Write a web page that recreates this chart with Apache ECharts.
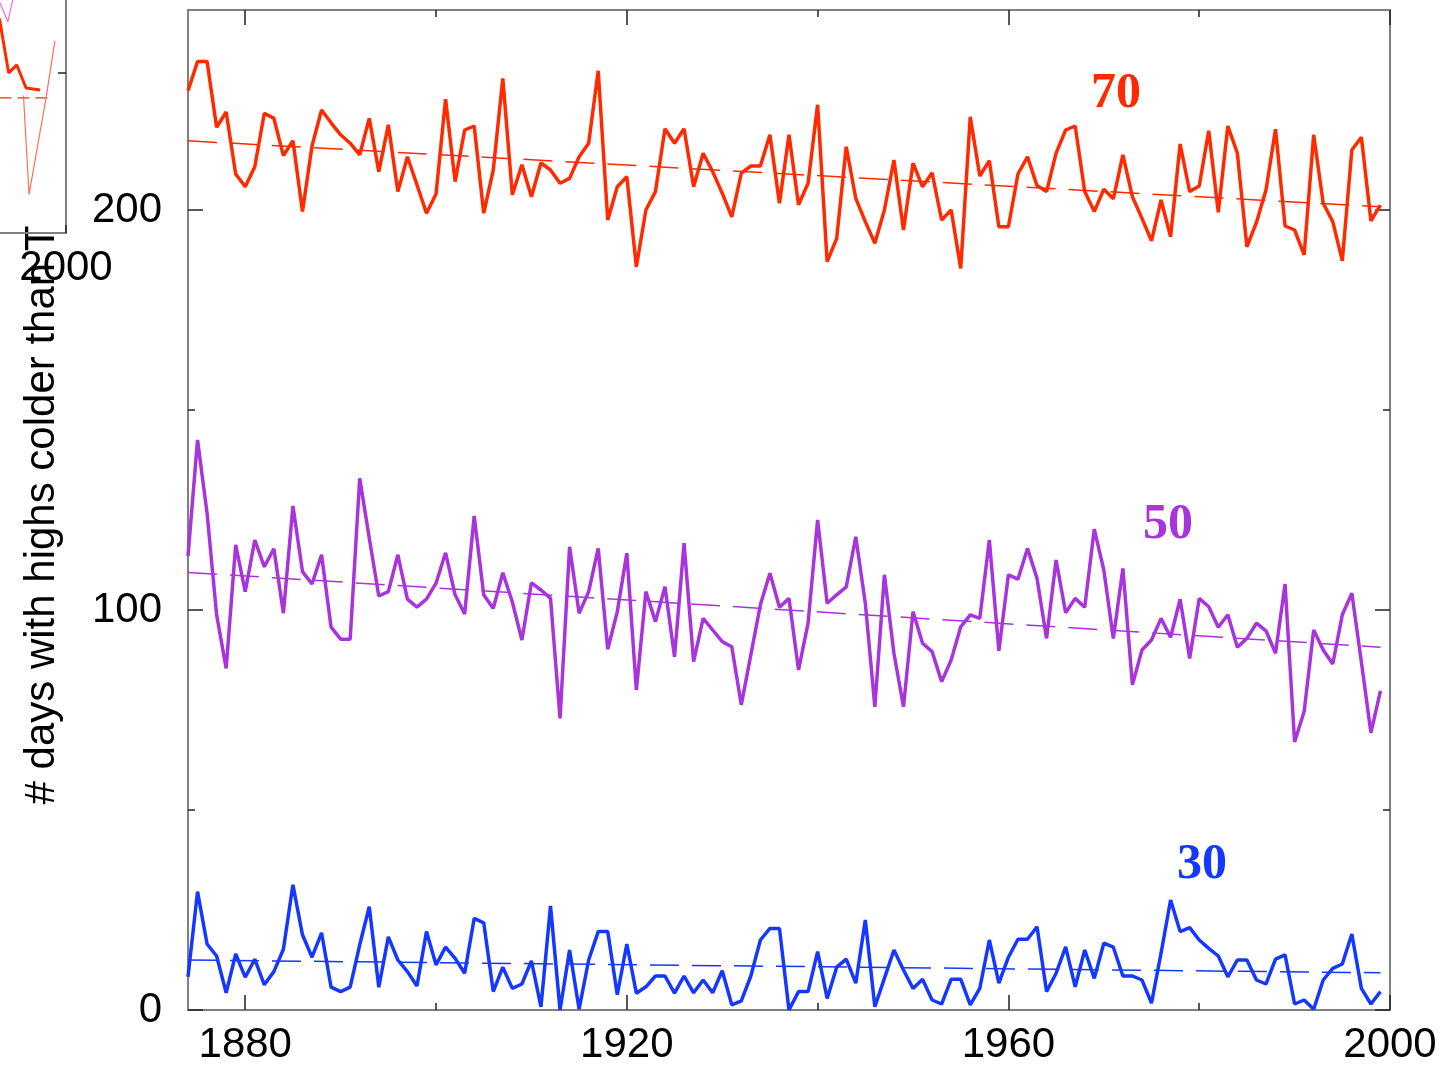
<!DOCTYPE html>
<html>
<head>
<meta charset="utf-8">
<script src="https://cdn.jsdelivr.net/npm/echarts@6/dist/echarts.min.js"></script>
<style>
  html, body { margin: 0; padding: 0; background: #fff; }
  #main { width: 1444px; height: 1072px; }
</style>
</head>
<body>
<div id="main"></div>
<script>
// years 1874 - 1999
var years = [
  1874, 1875, 1876, 1877, 1878, 1879, 1880, 1881, 1882, 1883,
  1884, 1885, 1886, 1887, 1888, 1889, 1890, 1891, 1892, 1893,
  1894, 1895, 1896, 1897, 1898, 1899, 1900, 1901, 1902, 1903,
  1904, 1905, 1906, 1907, 1908, 1909, 1910, 1911, 1912, 1913,
  1914, 1915, 1916, 1917, 1918, 1919, 1920, 1921, 1922, 1923,
  1924, 1925, 1926, 1927, 1928, 1929, 1930, 1931, 1932, 1933,
  1934, 1935, 1936, 1937, 1938, 1939, 1940, 1941, 1942, 1943,
  1944, 1945, 1946, 1947, 1948, 1949, 1950, 1951, 1952, 1953,
  1954, 1955, 1956, 1957, 1958, 1959, 1960, 1961, 1962, 1963,
  1964, 1965, 1966, 1967, 1968, 1969, 1970, 1971, 1972, 1973,
  1974, 1975, 1976, 1977, 1978, 1979, 1980, 1981, 1982, 1983,
  1984, 1985, 1986, 1987, 1988, 1989, 1990, 1991, 1992, 1993,
  1994, 1995, 1996, 1997, 1998, 1999
];
// T = 70
var days70 = [
  229.8, 237.1, 237.1, 220.7, 224.5, 209, 205.8, 210.8, 224.2, 222.9,
  213.6, 217.3, 199.6, 216, 225, 221.8, 218.8, 216.7, 213.8, 222.9,
  209.6, 221.3, 204.6, 213.3, 206.3, 199.2, 204, 227.7, 207.1, 220,
  221, 199.2, 210, 232.9, 203.8, 211.3, 203.3, 211.8, 210, 206.7,
  207.9, 213.3, 216.7, 234.8, 197.5, 205.8, 208.3, 185.8, 200, 204.6,
  220.3, 216.7, 220.3, 205.8, 214.2, 209.6, 204.2, 198.3, 209.2, 211,
  211, 218.8, 201.7, 218.8, 201.3, 206.7, 226.3, 187.1, 192.9, 215.8,
  202.9, 197.1, 191.7, 200, 212.5, 195, 211.7, 205.8, 209.3, 197.5,
  200, 185.4, 223.3, 208.5, 212.3, 195.8, 195.8, 209, 213.3, 206.1,
  204.6, 214.2, 220, 221, 204.6, 199.6, 205.2, 202.8, 213.8, 203.3,
  197.9, 192.3, 202.5, 193.3, 216.5, 204.6, 206, 219.8, 199.4, 221,
  214.2, 190.8, 196.9, 205, 220.2, 196, 195, 188.8, 218.8, 201.7,
  197.1, 187.3, 215, 218.2, 197.3, 201.2
];
// T = 50
var days50 = [
  113.5, 142.5, 124.2, 98.8, 85.4, 116.3, 104.6, 117.5, 110.8, 115.3,
  99.2, 126, 109.6, 106.5, 113.8, 95.7, 92.7, 92.7, 132.9, 118,
  103.5, 104.6, 113.8, 102.7, 100.7, 102.7, 106.7, 114.3, 103.8, 99,
  123.5, 103.8, 100.4, 109.3, 102, 92.5, 106.8, 105, 102.9, 72.9,
  115.8, 99.2, 104.6, 115.4, 90.2, 99.6, 114.2, 80, 104.6, 97.1,
  105.8, 88.3, 116.7, 87.1, 97.9, 95, 92.1, 90.8, 76.3, 88.8,
  101.3, 109.2, 100.7, 102.9, 85, 96.7, 122.5, 101.7, 103.8, 105.8,
  118.3, 101.7, 75.8, 108.8, 89.2, 75.8, 99.6, 91.7, 89.6, 82.1,
  87.5, 95.8, 98.8, 97.9, 117.5, 89.8, 108.8, 107.7, 115.4, 107.9,
  92.9, 112.5, 99.3, 102.9, 100.7, 120.2, 110, 92.9, 110.4, 81.3,
  90, 92.5, 97.9, 93.2, 102.7, 87.9, 102.9, 100.8, 95.7, 98.8,
  90.7, 92.9, 96.7, 94.8, 89.2, 106.5, 67, 74.6, 95, 90,
  86.5, 98.8, 104.2, 87, 69.3, 79.8
];
// T = 30
var days30 = [
  8.3, 29.6, 16.5, 13.5, 4.3, 14, 8.2, 12.7, 6.3, 9.6,
  15.2, 31.3, 18.8, 13.2, 19.3, 5.7, 4.6, 5.7, 16.3, 25.8,
  5.7, 18.3, 12.5, 9.6, 6, 19.6, 11.3, 15.7, 12.9, 9.2,
  22.9, 21.8, 4.6, 10.7, 5.4, 6.5, 12.3, 0.8, 26, 0,
  15, 0.2, 12.5, 19.6, 19.6, 3.8, 16.5, 4.2, 5.8, 8.5,
  8.5, 4.2, 8.5, 4.3, 7.5, 4.3, 9.8, 1.3, 2.3, 8.5,
  17.5, 20.4, 20.4, 0, 4.6, 4.6, 14.6, 2.9, 10.7, 12.7,
  6.7, 22.5, 0.8, 7.9, 15, 10, 5.4, 7.7, 2.5, 1.5,
  7.7, 7.7, 1.3, 5.4, 17.5, 6.7, 13.2, 17.7, 17.7, 20.8,
  4.6, 9.2, 15.8, 5.8, 15, 7.9, 16.7, 15.7, 8.5, 8.5,
  7.5, 1.7, 14.2, 27.5, 19.6, 20.6, 17.5, 15.4, 13.5, 8.3,
  12.5, 12.5, 7.5, 6.5, 12.7, 13.8, 1.5, 2.5, 0.2, 7.5,
  10.4, 11.5, 19, 5.4, 1.5, 4.6
];
// trend lines (first year, last year)
var trendYears = [1874, 1999];
var trend70 = [217.3, 200.8];
var trend50 = [109.4, 90.7];
var trend30 = [12.5, 9.3];

// cut-off panel at top left, only its last years show
var insetYears = [1982, 1984.5, 1986.7, 1989.2, 1993];
var insetThick = [134, 100, 105, 90.6, 89.4];
var insetPinkYears = [1981, 1984.3, 1986];
var insetPink = [150, 132, 150];
var insetThinYears = [1988.5, 1990, 1994.5, 1997];
var insetThin = [86, 24, 83, 120];
var insetTrendYears = [1982, 1995.5];
var insetTrend = [84.4, 84.4];

var xMajor = [1880, 1920, 1960, 2000];
var xMinor = [1900, 1940, 1980];
var yMajor = [0, 100, 200];
var yMinor = [50, 150];
var seriesLabels = ['70', '50', '30'];

var RED = '#ff2a00', PURPLE = '#a834dc', BLUE = '#1438ff';
var FONT = 'Liberation Sans';

function pairs(xs, ys) {
  var out = [];
  for (var i = 0; i < ys.length; i++) out.push([xs[i], ys[i]]);
  return out;
}
function plain(v) { return String(v); }

function xAx(grid, pos, ticks, len, showLine, labels) {
  return {
    type: 'value', gridIndex: grid, position: pos, min: 1874, max: 2000,
    axisLine: { show: showLine, onZero: false, lineStyle: { color: '#808080', width: 2 } },
    axisTick: { show: true, inside: true, length: len, customValues: ticks, lineStyle: { color: '#222', width: 1.5 } },
    axisLabel: labels ? { show: true, customValues: labels, formatter: plain, color: '#000', fontSize: 42, fontFamily: FONT, margin: 14 } : { show: false },
    splitLine: { show: false }
  };
}
function yAx(grid, pos, max, ticks, len, showLine, labels) {
  return {
    type: 'value', gridIndex: grid, position: pos, min: 0, max: max,
    axisLine: { show: showLine, onZero: false, lineStyle: { color: '#808080', width: 2 } },
    axisTick: { show: true, inside: true, length: len, customValues: ticks, lineStyle: { color: '#222', width: 1.5 } },
    axisLabel: labels ? { show: true, customValues: labels, formatter: plain, color: '#000', fontSize: 42, fontFamily: FONT, margin: 26 } : { show: false },
    splitLine: { show: false }
  };
}
function lineSeries(name, xs, vals, color, width, dash, axis) {
  return {
    name: name, type: 'line', data: pairs(xs, vals), symbol: 'none',
    xAxisIndex: axis || 0, yAxisIndex: axis || 0,
    lineStyle: { color: color, width: width, type: dash || 'solid' },
    z: dash ? 2 : 3, animation: false, silent: true
  };
}

var chart = echarts.init(document.querySelector('#main'));
var option = {
  backgroundColor: '#fff',
  animation: false,
  grid: [
    { left: 188, top: 10, width: 1202, height: 1000, outerBoundsMode: 'none' },
    { left: -400, top: -300, width: 466, height: 533, outerBoundsMode: 'none' }
  ],
  xAxis: [
    xAx(0, 'bottom', xMajor, 15, true, xMajor),
    xAx(0, 'bottom', xMinor, 7, false, null),
    xAx(0, 'top', xMajor, 15, true, null),
    xAx(0, 'top', xMinor, 7, false, null),
    xAx(1, 'bottom', [2000], 8, true, [2000])
  ],
  yAxis: [
    yAx(0, 'left', 250, yMajor, 15, true, yMajor),
    yAx(0, 'left', 250, yMinor, 7, false, null),
    yAx(0, 'right', 250, yMajor, 15, true, null),
    yAx(0, 'right', 250, yMinor, 7, false, null),
    yAx(1, 'right', 333, [100], 8, true, null)
  ],
  series: [
    lineSeries('trend70', trendYears, trend70, RED, 1.5, [29, 13]),
    lineSeries('trend50', trendYears, trend50, PURPLE, 1.5, [29, 13]),
    lineSeries('trend30', trendYears, trend30, BLUE, 1.5, [29, 13]),
    lineSeries('70', years, days70, RED, 3.5),
    lineSeries('50', years, days50, PURPLE, 3.5),
    lineSeries('30', years, days30, BLUE, 3.5),
    lineSeries('insetTrend', insetTrendYears, insetTrend, RED, 1.2, [12, 6], 4),
    lineSeries('insetPink', insetPinkYears, insetPink, '#ff66cc', 1.2, null, 4),
    lineSeries('insetThin', insetThinYears, insetThin, '#ff6f55', 1.2, null, 4),
    lineSeries('insetThick', insetYears, insetThick, RED, 3, null, 4)
  ],
  graphic: [
    { type: 'text', x: 42, y: 515, rotation: Math.PI / 2,
      style: { text: '# days with highs colder than T', fill: '#000', font: '42px "Liberation Sans"', align: 'center', verticalAlign: 'middle' } },
    { type: 'text', x: 1116, y: 94,
      style: { text: seriesLabels[0], fill: RED, font: 'bold 50px "Liberation Serif"', align: 'center', verticalAlign: 'middle' } },
    { type: 'text', x: 1168, y: 525,
      style: { text: seriesLabels[1], fill: PURPLE, font: 'bold 50px "Liberation Serif"', align: 'center', verticalAlign: 'middle' } },
    { type: 'text', x: 1202, y: 865,
      style: { text: seriesLabels[2], fill: BLUE, font: 'bold 50px "Liberation Serif"', align: 'center', verticalAlign: 'middle' } }
  ]
};
chart.setOption(option);
</script>
</body>
</html>
